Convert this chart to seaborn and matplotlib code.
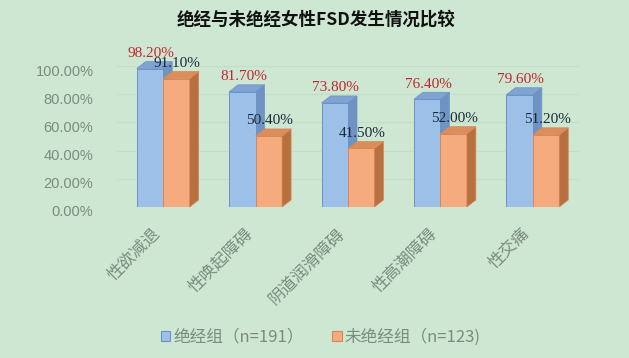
import matplotlib
matplotlib.use("Agg")
import matplotlib.pyplot as plt
import matplotlib.transforms as mtransforms
from matplotlib.patches import Polygon
import seaborn as sns
import pandas as pd

categories = ['性欲减退', '性唤起障碍', '阴道润滑障碍', '性高潮障碍', '性交痛']
series_names = ['绝经组（n=191）', '未绝经组（n=123)']
meno_values = [98.2, 81.7, 73.8, 76.4, 79.6]
premeno_values = [91.1, 50.4, 41.5, 52.0, 51.2]
y_ticks = [0, 20, 40, 60, 80, 100]
title_text = '绝经与未绝经女性FSD发生情况比较'

BG = '#cde7d2'
BLUE = '#9dc0e8'
BLUE_EDGE = '#6a93c6'
BLUE_SIDE = '#6f93c2'
BLUE_TOP = '#7fa3d2'
ORANGE = '#f6ab7f'
ORANGE_EDGE = '#d8875a'
ORANGE_SIDE = '#b9703f'
ORANGE_TOP = '#dc8e5a'
GRAY = '#7b8c7e'

df = pd.DataFrame({
    'cat': categories * 2,
    'val': meno_values + premeno_values,
    'group': [series_names[0]] * len(categories) + [series_names[1]] * len(categories),
})

sns.set_theme(style='white')
plt.rcParams['font.family'] = ['Noto Sans CJK SC', 'DejaVu Sans']

fig = plt.figure(figsize=(6.29, 3.58), dpi=100, facecolor=BG)
ax = fig.add_axes([117 / 629, (358 - 207) / 358, 462 / 629, 141 / 358])
ax.set_facecolor(BG)

sns.barplot(data=df, x='cat', y='val', hue='group', palette=[BLUE, ORANGE],
            saturation=1, width=0.573, gap=0, ax=ax, zorder=3,
            legend=True)
ax.set_xlim(-0.5, 4.5)
ax.set_ylim(0, 100)

for cont, ec in zip(ax.containers, [BLUE_EDGE, ORANGE_EDGE]):
    for bar in cont:
        bar.set_edgecolor(ec)
        bar.set_linewidth(0.7)

DX, DY = 9, 7
ident = mtransforms.IdentityTransform()


def add_depth(container, side_c, top_c, edge_c, z):
    for bar in container:
        x0 = bar.get_x()
        w = bar.get_width()
        h = bar.get_height()
        px0, py0 = ax.transData.transform((x0, 0))
        px1, py1 = ax.transData.transform((x0 + w, h))
        top = [(px0, py1), (px1, py1), (px1 + DX, py1 + DY), (px0 + DX, py1 + DY)]
        side = [(px1, py0), (px1, py1), (px1 + DX, py1 + DY), (px1 + DX, py0 + DY)]
        for pts, c in ((side, side_c), (top, top_c)):
            ax.add_patch(Polygon(pts, closed=True, transform=ident, facecolor=c,
                                 edgecolor=edge_c, linewidth=0.5, zorder=z,
                                 clip_on=False))


add_depth(ax.containers[0], BLUE_SIDE, BLUE_TOP, BLUE_EDGE, 2.5)
add_depth(ax.containers[1], ORANGE_SIDE, ORANGE_TOP, ORANGE_EDGE, 3.2)

# value labels
for cont, col in zip(ax.containers, ['#c0262e', '#1c2a3a']):
    for bar in cont:
        h = bar.get_height()
        ax.annotate(f'{h:.2f}%', xy=(bar.get_x() + bar.get_width() / 2, h),
                    xytext=(1, 15), textcoords='offset pixels',
                    ha='center', va='center', color=col, fontsize=11,
                    family=['Liberation Serif'], zorder=5, annotation_clip=False)

ax.set_ylim(0, 100)
ax.set_xlim(-0.5, 4.5)
ax.tick_params(axis='y', length=0, pad=17)
ax.tick_params(axis='x', length=0, pad=13)
ax.set_yticks(y_ticks)
ax.set_yticklabels([f'{v:.2f}%' for v in y_ticks], family=['Liberation Sans'],
                   fontsize=10.5, color=GRAY)
ax.set_xticks(range(len(categories)))
ax.set_xticklabels(categories, rotation=45, ha='right', fontsize=12, color=GRAY)
offset = mtransforms.ScaledTranslation(0, -0.04, fig.dpi_scale_trans)
for lab in ax.get_yticklabels():
    lab.set_transform(lab.get_transform() + offset)
ax.set_xlabel('')
ax.set_ylabel('')
for s in ax.spines.values():
    s.set_visible(False)
ax.yaxis.grid(True, color='#c2dec7', linewidth=0.8, zorder=0)
ax.set_axisbelow(True)

handles, labels = ax.get_legend_handles_labels()
for hnd, ec in zip(handles, [BLUE_EDGE, ORANGE_EDGE]):
    hnd.set_edgecolor(ec)
    hnd.set_linewidth(0.8)
ax.legend(handles, labels, loc='center', bbox_to_anchor=(321 / 629, 1 - 337 / 358),
          bbox_transform=fig.transFigure, ncol=2, frameon=False, fontsize=12,
          handlelength=0.55, handleheight=0.55, handletextpad=0.2,
          columnspacing=1.7, labelcolor=GRAY)

fig.text(316 / 629, 1 - 20 / 358, title_text, ha='center', va='center',
         fontsize=12.6, fontweight='bold', color='#111111')

fig.savefig('out.png', dpi=100, facecolor=BG)
